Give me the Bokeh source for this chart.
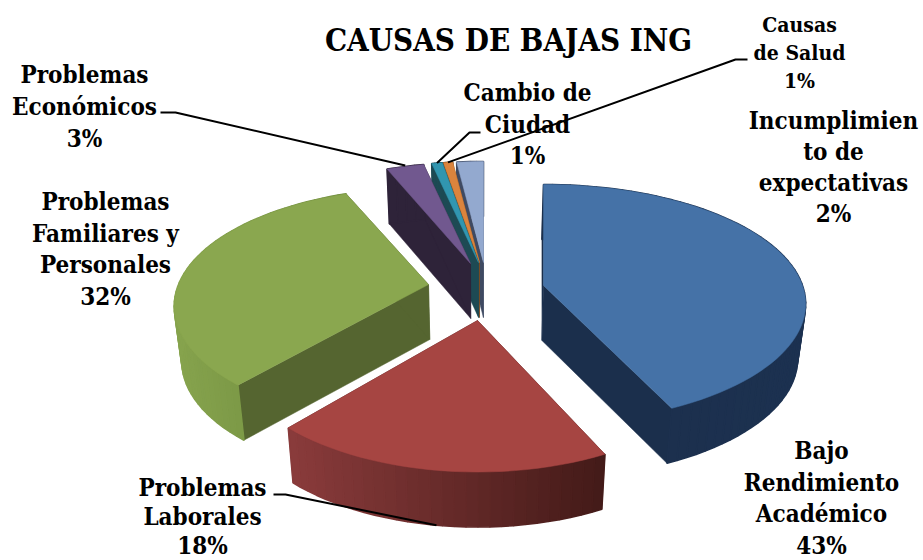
import math
from bokeh.plotting import figure
from bokeh.models import Range1d
from bokeh.core.properties import value
from bokeh.embed import file_html
from bokeh.resources import INLINE

# ---- data ----
categories = ["Bajo Rendimiento Académico", "Problemas Laborales", "Problemas Familiares y Personales",
              "Problemas Económicos", "Cambio de Ciudad", "Causas de Salud", "Incumplimiento de expectativas"]
shares = [43.0, 18.4, 32.3, 2.8, 0.8, 0.7, 2.0]
title_text = "CAUSAS DE BAJAS ING"
label_lines = [["Bajo", "Rendimiento", "Académico"], ["Problemas", "Laborales"],
               ["Problemas", "Familiares y", "Personales"], ["Problemas", "Económicos"],
               ["Cambio de", "Ciudad"], ["Causas", "de Salud"], ["Incumplimien", "to de", "expectativas"]]

# ---- styles / layout ----
top_colors = ["#4572A7", "#A64542", "#8AA74F", "#71588F", "#3196B0", "#DB843D", "#93A9CF"]
wall_colors = ["#1B2F4C", "#451B1A", "#556530", "#2E2339", "#1D4A54", "#7C4A20", "#3F4A62"]
arc_from = ["#1B2F4C", "#8A3B3B", "#86A34D", "#2E2339", "#1D4A54", "#7C4A20", "#3F4A62"]
arc_to = ["#1C3150", "#431A18", "#6C893D", "#2E2339", "#1D4A54", "#7C4A20", "#3F4A62"]
apex = [(543, 285), (477, 320), (428, 284), (470, 263), (478, 262), (479, 262), (483, 262)]
scale_a = [259, 243, 250, 258, 258, 258, 258]
scale_b = [116.7, 120, 115, 122, 122, 122, 122]
persp = [0.155, 0.208, 0.184, 0.208, 0.208, 0.208, 0.208]
label_centers = [(821, 450), (202, 487), (105, 201), (84, 74), (527, 92), (799, 24), (833, 120)]
label_steps = [31.5, 29, 31.5, 32, 31.5, 28, 31]
label_sizes = [24, 24, 24, 24, 24, 21, 24]
DEPTH, CONV, CONV_X = 55, 0.975, 480
FONT = "DejaVu Serif Condensed"


def proj(i, frac):
    t = 2 * math.pi * frac
    X, Y = math.sin(t), math.cos(t)
    d = 1 + persp[i] * Y
    return apex[i][0] + scale_a[i] * X / d, apex[i][1] - scale_b[i] * Y / d


def lower(pt):
    return CONV_X + (pt[0] - CONV_X) * CONV, pt[1] + DEPTH


def mix(c1, c2, f):
    a = [int(c1[j:j + 2], 16) for j in (1, 3, 5)]
    b = [int(c2[j:j + 2], 16) for j in (1, 3, 5)]
    return "#%02x%02x%02x" % tuple(round(a[j] + (b[j] - a[j]) * f) for j in range(3))


p = figure(width=923, height=560, x_range=Range1d(0, 923), y_range=Range1d(560, 0),
           output_backend="svg", toolbar_location=None, min_border=0)
p.axis.visible = False
p.grid.visible = False
p.outline_line_color = None

total = sum(shares)
starts, s = [], 0.0
for v in shares:
    starts.append(s / total)
    s += v
ends = [st + v / total for st, v in zip(starts, shares)]


def draw(i):
    a0, a1 = starts[i], ends[i]
    c = apex[i]
    for frac in (a0, a1):
        q = proj(i, frac)
        ql, cl = lower(q), lower(c)
        p.patch([c[0], q[0], ql[0], cl[0]], [c[1], q[1], ql[1], cl[1]],
                fill_color=wall_colors[i], line_color=wall_colors[i], line_width=0.5)
    n = max(4, int(160 * (a1 - a0)))
    fr = [a0 + (a1 - a0) * k / n for k in range(n + 1)]
    pts = [proj(i, f) for f in fr]
    xmin, xmax = min(q[0] for q in pts), max(q[0] for q in pts)
    xs, ys, cols = [], [], []
    for k in range(n):
        q0, q1 = pts[k], pts[k + 1]
        l0, l1 = lower(q0), lower(q1)
        xs.append([q0[0], q1[0], l1[0], l0[0]])
        ys.append([q0[1], q1[1], l1[1], l0[1]])
        cols.append(mix(arc_from[i], arc_to[i], ((q0[0] + q1[0]) / 2 - xmin) / max(1, xmax - xmin)))
    p.patches(xs, ys, fill_color=cols, line_color=cols, line_width=1.6)
    p.patch([c[0]] + [q[0] for q in pts], [c[1]] + [q[1] for q in pts],
            fill_color=top_colors[i], line_color=top_colors[i], line_width=0.5)


for i in (6, 5, 4, 3, 2, 0, 1):
    draw(i)

# leader lines: from the label side to a point on the slice
top_end = proj(3, (starts[3] + ends[3]) / 2)
cyan_end = proj(4, (starts[4] + ends[4]) / 2)
orange_end = proj(5, (starts[5] + ends[5]) / 2)
red_end = lower(proj(1, starts[1] + 0.5 * (ends[1] - starts[1])))
leaders = [([160, 175, top_end[0]], [112, 112, top_end[1] - 1]),
           ([480, 469, cyan_end[0]], [132, 132, cyan_end[1]]),
           ([747, 735, orange_end[0]], [59, 59, orange_end[1]]),
           ([273, 285, red_end[0]], [494, 494, red_end[1]])]
for lx, ly in leaders:
    p.line(lx, ly, line_color="black", line_width=2)

# labels
p.text([508], [39], text=[title_text], text_font=value(FONT), text_font_style="bold", text_font_size="31px",
       text_align="center", text_baseline="middle", text_color="black")
for i, lines in enumerate(label_lines):
    cx, cy = label_centers[i]
    rows = lines + ["%d%%" % round(shares[i])]
    p.text([cx] * len(rows), [cy + label_steps[i] * k for k in range(len(rows))], text=rows,
           text_font=value(FONT), text_font_style="bold", text_font_size="%gpx" % label_sizes[i],
           text_align="center", text_baseline="middle", text_color="black")

open("out.html", "w").write(file_html(p, INLINE))
